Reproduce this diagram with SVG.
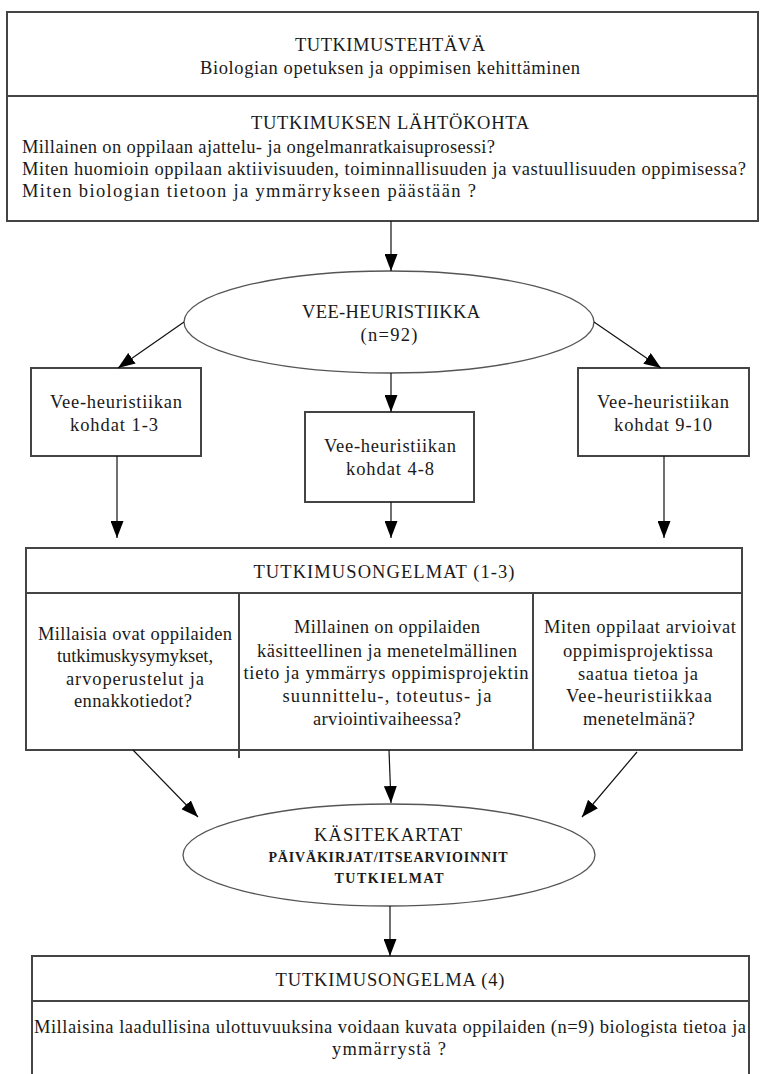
<svg xmlns="http://www.w3.org/2000/svg" width="764" height="1074" viewBox="0 0 764 1074">
  <defs>
    <marker id="arrow" markerUnits="userSpaceOnUse" markerWidth="17" markerHeight="13" refX="17" refY="6.5" orient="auto">
      <path d="M0,0 L17,6.5 L0,13 z" fill="#000"/>
    </marker>
    <style>
      text { font-family: "Liberation Serif", "Times New Roman", serif; font-size: 18.5px; fill: #1a1a1a; }
      .c { text-anchor: middle; }
      .small { font-size: 14px; font-weight: bold; }
      .box { fill: #fff; stroke: #444; stroke-width: 2; }
      .sep { stroke: #444; stroke-width: 2; fill: none; }
      .oval { fill: #fff; stroke: #555; stroke-width: 1.3; }
      .edge { stroke: #111; stroke-width: 1.2; fill: none; marker-end: url(#arrow); }
    </style>
  </defs>
  <rect width="764" height="1074" fill="#fff"/>

  <!-- research task and starting point -->
  <g id="task">
    <rect class="box" x="7" y="12" width="751" height="209"/>
    <line class="sep" x1="7" y1="96" x2="758" y2="96"/>
    <text class="c" x="390" y="51" textLength="190">TUTKIMUSTEHTÄVÄ</text>
    <text class="c" x="390" y="74" textLength="380">Biologian opetuksen ja oppimisen kehittäminen</text>
    <text class="c" x="390" y="129" textLength="278">TUTKIMUKSEN LÄHTÖKOHTA</text>
    <text x="22" y="153" textLength="473">Millainen on oppilaan ajattelu- ja ongelmanratkaisuprosessi?</text>
    <text x="22" y="175" textLength="724">Miten huomioin oppilaan aktiivisuuden, toiminnallisuuden ja vastuullisuuden oppimisessa?</text>
    <text x="22" y="197" textLength="454">Miten biologian tietoon ja ymmärrykseen päästään ?</text>
  </g>

  <!-- Vee heuristic -->
  <g id="vee">
    <ellipse class="oval" cx="389" cy="322" rx="205" ry="51"/>
    <text class="c" x="391" y="318" textLength="178">VEE-HEURISTIIKKA</text>
    <text class="c" x="389" y="341" textLength="57">(n=92)</text>
  </g>

  <g id="vee-1-3">
    <rect class="box" x="31" y="368" width="170" height="88"/>
    <text class="c" x="116" y="408" textLength="132">Vee-heuristiikan</text>
    <text class="c" x="114" y="431" textLength="88">kohdat 1-3</text>
  </g>

  <g id="vee-4-8">
    <rect class="box" x="305" y="412" width="169" height="90"/>
    <text class="c" x="390" y="452" textLength="132">Vee-heuristiikan</text>
    <text class="c" x="390" y="475" textLength="88">kohdat 4-8</text>
  </g>

  <g id="vee-9-10">
    <rect class="box" x="578" y="368" width="171" height="88"/>
    <text class="c" x="663" y="408" textLength="132">Vee-heuristiikan</text>
    <text class="c" x="663" y="431" textLength="98">kohdat 9-10</text>
  </g>

  <!-- research problems 1-3 -->
  <g id="problems">
    <rect class="box" x="26" y="548" width="716" height="202"/>
    <line class="sep" x1="26" y1="593" x2="742" y2="593"/>
    <line class="sep" x1="239" y1="593" x2="239" y2="758"/>
    <line class="sep" x1="533" y1="593" x2="533" y2="750"/>
    <text class="c" x="384" y="578" textLength="261">TUTKIMUSONGELMAT (1-3)</text>

    <text class="c" x="135" y="640" textLength="194">Millaisia ovat oppilaiden</text>
    <text class="c" x="135" y="662" textLength="156">tutkimuskysymykset,</text>
    <text class="c" x="135" y="685" textLength="138">arvoperustelut ja</text>
    <text class="c" x="133" y="707" textLength="118">ennakkotiedot?</text>

    <text class="c" x="387" y="633" textLength="186">Millainen on oppilaiden</text>
    <text class="c" x="387" y="657" textLength="260">käsitteellinen ja menetelmällinen</text>
    <text class="c" x="386" y="679" textLength="285">tieto ja ymmärrys oppimisprojektin</text>
    <text class="c" x="387" y="702" textLength="209">suunnittelu-, toteutus-  ja</text>
    <text class="c" x="387" y="725" textLength="148">arviointivaiheessa?</text>

    <text class="c" x="640" y="633" textLength="192">Miten oppilaat arvioivat</text>
    <text class="c" x="638" y="657" textLength="150">oppimisprojektissa</text>
    <text class="c" x="638" y="680" textLength="120">saatua tietoa ja</text>
    <text class="c" x="639" y="702" textLength="146">Vee-heuristiikkaa</text>
    <text class="c" x="639" y="725" textLength="112">menetelmänä?</text>
  </g>

  <!-- collected data -->
  <g id="data">
    <ellipse class="oval" cx="389" cy="855" rx="206" ry="51"/>
    <text class="c" x="388" y="841" textLength="148">KÄSITEKARTAT</text>
    <text class="c small" x="388" y="862" textLength="239">PÄIVÄKIRJAT/ITSEARVIOINNIT</text>
    <text class="c small" x="389" y="883" textLength="109">TUTKIELMAT</text>
  </g>

  <!-- research problem 4 -->
  <g id="problem-4">
    <rect class="box" x="32" y="956" width="717" height="130"/>
    <line class="sep" x1="32" y1="1001" x2="749" y2="1001"/>
    <text class="c" x="390" y="986" textLength="229">TUTKIMUSONGELMA (4)</text>
    <text class="c" x="390" y="1033" textLength="712">Millaisina laadullisina ulottuvuuksina voidaan kuvata oppilaiden (n=9) biologista tietoa ja</text>
    <text class="c" x="389" y="1055" textLength="114">ymmärrystä ?</text>
  </g>

  <!-- connectors -->
  <g id="connectors">
    <line class="edge" x1="391" y1="221" x2="391" y2="271"/>
    <line class="edge" x1="184" y1="322" x2="118" y2="368"/>
    <line class="edge" x1="594" y1="322" x2="661" y2="368"/>
    <line class="edge" x1="391" y1="373" x2="391" y2="412"/>
    <line class="edge" x1="117" y1="456" x2="117" y2="538"/>
    <line class="edge" x1="391" y1="502" x2="391" y2="538"/>
    <line class="edge" x1="664" y1="456" x2="664" y2="538"/>
    <line class="edge" x1="133" y1="750" x2="198" y2="817"/>
    <line class="edge" x1="389" y1="750" x2="391" y2="803"/>
    <line class="edge" x1="637" y1="752" x2="582" y2="817"/>
    <line class="edge" x1="390" y1="906" x2="390" y2="956"/>
  </g>
</svg>
